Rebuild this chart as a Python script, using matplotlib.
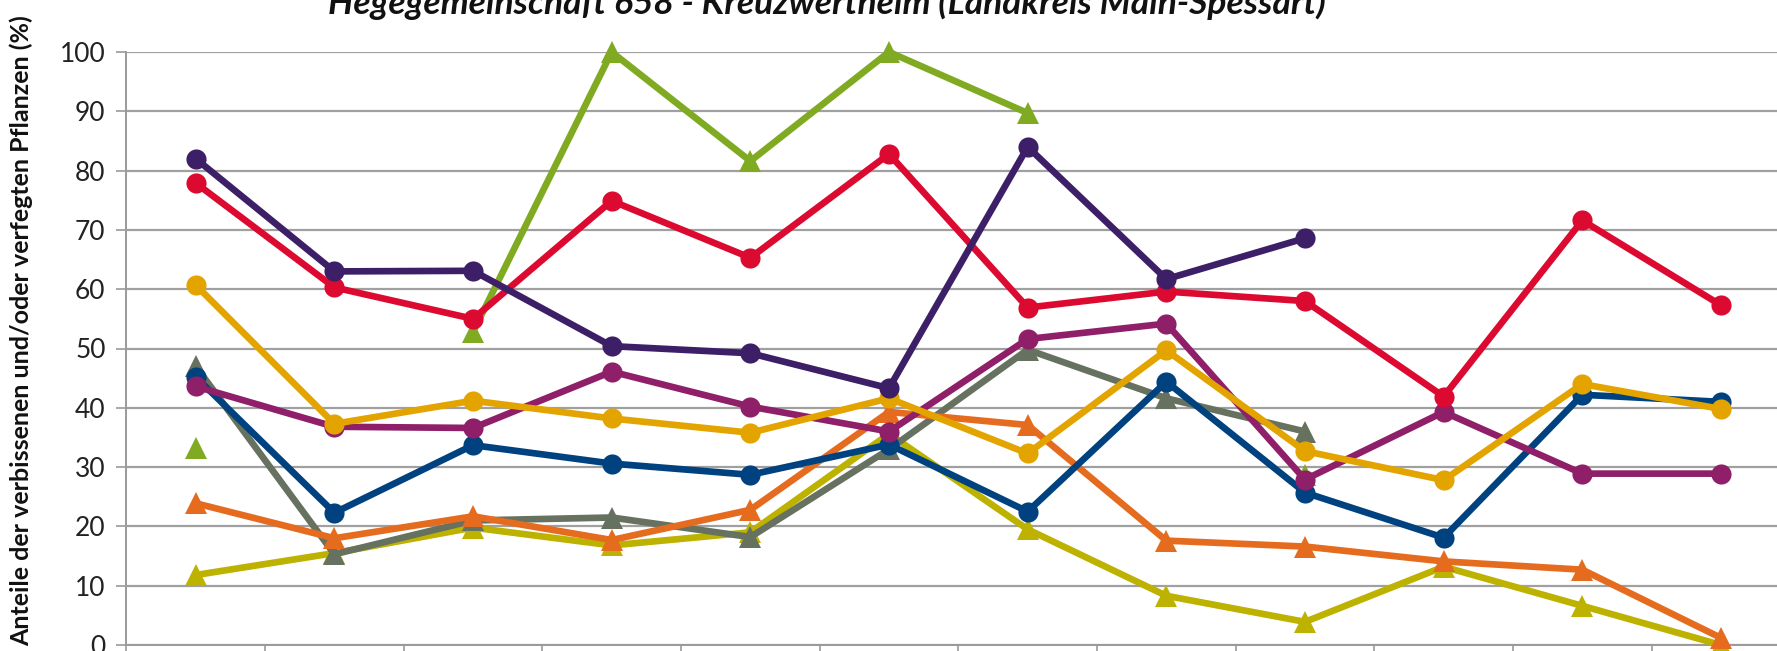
import numpy as np
import matplotlib
matplotlib.use("Agg")
import matplotlib.pyplot as plt
from matplotlib.ticker import FixedLocator, NullFormatter

nan = np.nan
categories = list(range(1, 13))

dark_purple = [82.0, 63.0, 63.1, 50.4, 49.2, 43.3, 84.0, 61.7, 68.6, nan, nan, nan]
red = [77.9, 60.3, 55.0, 74.9, 65.3, 82.8, 56.9, 59.6, 58.0, 41.9, 71.6, 57.3]
yellow = [60.7, 37.3, 41.2, 38.2, 35.8, 41.6, 32.3, 49.7, 32.7, 27.8, 44.0, 39.8]
magenta = [43.6, 36.8, 36.6, 46.1, 40.2, 36.0, 51.6, 54.2, 27.9, 39.3, 28.9, 28.9]
blue = [45.2, 22.3, 33.7, 30.6, 28.7, 33.8, 22.5, 44.4, 25.7, 18.1, 42.2, 41.0]
green = [33.3, nan, 52.8, 100.0, 81.6, 100.0, 89.7, nan, 28.6, nan, nan, nan]
grey = [47.0, 15.3, 21.0, 21.5, 18.2, 33.0, 49.8, 41.6, 36.0, nan, nan, nan]
orange = [23.9, 18.0, 21.7, 17.7, 22.8, 39.3, 37.1, 17.6, 16.6, 14.1, 12.7, 1.2]
olive = [11.8, 15.5, 19.8, 16.8, 19.0, 35.6, 19.5, 8.3, 3.9, 13.2, 6.6, 0.0]

series = [
    ("green", green, "#80AA22", "^"),
    ("olive", olive, "#BDB200", "^"),
    ("grey", grey, "#667160", "^"),
    ("orange", orange, "#E56B1F", "^"),
    ("blue", blue, "#00427F", "o"),
    ("magenta", magenta, "#8E1F68", "o"),
    ("yellow", yellow, "#E3A400", "o"),
    ("red", red, "#DC0A30", "o"),
    ("dark_purple", dark_purple, "#3D1F68", "o"),
]

title = "Hegegemeinschaft 658 - Kreuzwertheim (Landkreis Main-Spessart)"
ylabel = "Anteile der verbissenen und/oder verfegten Pflanzen (%)"
yticks = [0, 10, 20, 30, 40, 50, 60, 70, 80, 90, 100]

plt.rcParams['font.family'] = ['Lato', 'DejaVu Sans']

W, H = 1777, 651
fig = plt.figure(figsize=(W / 100, H / 100), dpi=100)
left = 126.4 / W
right = 1790.3 / W
bottom = 6 / H
top = 52 / H
ax = fig.add_axes([left, bottom, right - left, 1 - top - bottom])

x = np.arange(len(categories))
for name, vals, col, mk in series:
    v = np.array(vals, dtype=float)
    ms = 14.5 if mk == "o" else 15.5
    ax.plot(x, v, color=col, lw=4.8, marker=mk, markersize=ms,
            markeredgewidth=0, solid_joinstyle='round', zorder=3, clip_on=False)

ax.set_xlim(-0.5, len(categories) - 0.5)
ax.set_ylim(0, 100)
ax.set_yticks(yticks)
ax.set_yticklabels([str(t) for t in yticks], fontsize=19, color="#222222")
ax.xaxis.set_major_locator(FixedLocator(np.arange(-0.5, len(categories) + 0.5, 1)))
ax.xaxis.set_major_formatter(NullFormatter())
ax.tick_params(axis='x', length=8, width=1.2, color="#9A9A9A", direction='out')
ax.tick_params(axis='y', length=7, width=1.2, color="#9A9A9A", direction='out', pad=8)
ax.grid(axis='y', color="#A0A0A0", lw=1.6, zorder=0)
ax.set_axisbelow(True)
for s in ['top', 'right']:
    ax.spines[s].set_visible(False)
for s in ['left', 'bottom']:
    ax.spines[s].set_color("#9A9A9A")
    ax.spines[s].set_linewidth(1.4)

fig.text(21 / W, 0.5 - 5 / H, ylabel, rotation=90, ha='center', va='center',
         fontsize=18, fontweight='bold', color="#111111")
fig.text(827 / W, 1 - 14 / H, title, ha='center', va='baseline',
         fontsize=25.5, fontweight='bold', fontstyle='italic', color="#111111")

fig.savefig("out.png", dpi=100)
